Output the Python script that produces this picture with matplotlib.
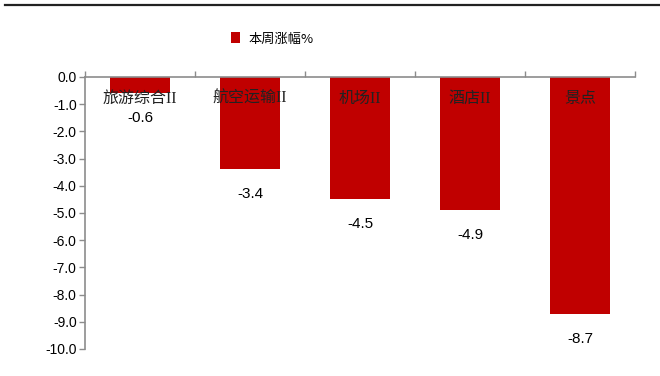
import matplotlib
matplotlib.use("Agg")
import matplotlib.pyplot as plt
from matplotlib.lines import Line2D
from matplotlib.patches import Patch
from matplotlib.transforms import offset_copy
import numpy as np

plt.rcParams['font.family'] = ['Liberation Sans', 'Noto Sans CJK SC', 'DejaVu Sans']

categories = ["旅游综合II", "航空运输II", "机场II", "酒店II", "景点"]
weekly_change = [-0.6, -3.4, -4.5, -4.9, -8.7]
series_name = "本周涨幅%"
y_ticks = [0.0, -1.0, -2.0, -3.0, -4.0, -5.0, -6.0, -7.0, -8.0, -9.0, -10.0]

bar_color = "#C00000"
spine_color = "#8C8C8C"

fig = plt.figure(figsize=(6.6, 3.76), dpi=100)
ax = fig.add_axes([85 / 660, 1 - 349 / 376, 550 / 660, 272 / 376])

x = np.arange(len(categories))
ax.bar(x, weekly_change, width=0.55, color=bar_color, zorder=2)

ax.set_xlim(-0.5, len(categories) - 0.5)
ax.set_ylim(-10, 0)
ax.set_yticks(y_ticks)
ax.set_yticklabels([f"{v:.1f}" for v in y_ticks], fontsize=10)

# category axis sits at zero (top), ticks between categories
ax.xaxis.tick_top()
ax.set_xticks(np.arange(len(categories) + 1) - 0.5)
ax.set_xticklabels([])
ax.tick_params(axis='x', direction='out', length=4, color=spine_color, width=1)
ax.tick_params(axis='y', direction='out', length=4, color=spine_color, width=1, pad=2)

for side in ("right", "bottom"):
    ax.spines[side].set_visible(False)
for side in ("left", "top"):
    ax.spines[side].set_color(spine_color)
    ax.spines[side].set_linewidth(1.2)

# category names just under the zero line
cat_tr = offset_copy(ax.transData, fig=fig, x=0, y=-15.5, units='points')
for xi, name in zip(x, categories):
    ax.text(xi, 0, name, transform=cat_tr, ha='center', va='center',
            fontsize=11.5, family=['Liberation Serif', 'Noto Sans CJK SC', 'DejaVu Sans'],
            color='#222222', zorder=3)

# value labels below each bar
val_tr = offset_copy(ax.transData, fig=fig, x=0, y=-18, units='points')
for xi, v in zip(x, weekly_change):
    ax.text(xi, v, f"{v:.1f}", transform=val_tr, ha='center', va='center',
            fontsize=11, color='black')

# legend above the plot
handle = Patch(facecolor=bar_color, edgecolor='none')
fig.legend([handle], [series_name], loc='center', bbox_to_anchor=(272 / 660, 1 - 39 / 376),
           frameon=False, handlelength=0.75, handleheight=0.9, handletextpad=0.6,
           prop={'family': ['Noto Sans CJK SC', 'DejaVu Sans'], 'size': 9.5})

# header rule
fig.add_artist(Line2D([5 / 660, 1.0], [1 - 5 / 376, 1 - 5 / 376], transform=fig.transFigure,
                      color='#222222', linewidth=1.6))

fig.savefig("out.png", dpi=100)
